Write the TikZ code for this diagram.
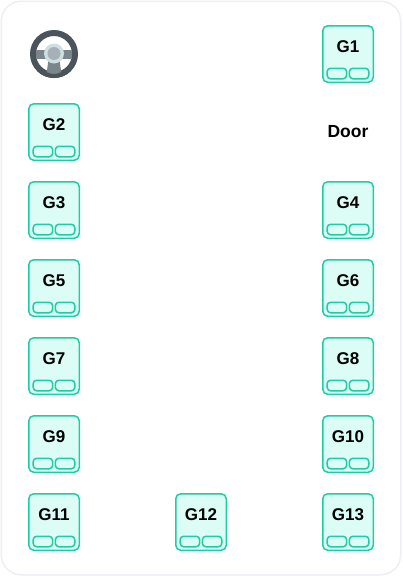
\documentclass[tikz,border=0pt]{standalone}
\usepackage{fontspec}
\setmainfont{Liberation Sans}
\usetikzlibrary{positioning}
\definecolor{seatfill}{RGB}{219,253,245}
\definecolor{seatborder}{RGB}{30,205,165}
\definecolor{frameborder}{RGB}{238,238,244}
\definecolor{wheelrim}{RGB}{75,84,90}
\definecolor{wheelspoke}{RGB}{122,134,140}
\definecolor{wheelhub}{RGB}{208,222,225}
\definecolor{wheelcap}{RGB}{165,177,182}
\tikzset{
  seatbox/.style = {rectangle, draw=seatborder, fill=seatfill, rounded corners=5pt,
                    line width=1.5pt, minimum width=50.5pt, minimum height=56.5pt,
                    inner sep=0pt, text height=12pt, text depth=15.4pt, font=\fontsize{17}{17}\selectfont\bfseries},
  padbox/.style = {rectangle, draw=seatborder, fill=seatfill, rounded corners=3.5pt,
                   line width=1.5pt, minimum width=19.5pt, minimum height=10.5pt, inner sep=0pt},
  doorlabel/.style = {font=\fontsize{17.5}{17.5}\selectfont\bfseries}
}
\begin{document}
\begin{tikzpicture}[x=1pt, y=-1pt, node distance=20pt and 95pt]
\useasboundingbox (0,0) rectangle (402,576);
\node[draw=frameborder, line width=1.5pt, rounded corners=20pt, minimum width=399.5pt, minimum height=573.5pt, inner sep=0pt] (frame) at (201,288) {};

\node[seatbox] (g1) at (348,54) {G1};
\node[doorlabel] (door) at (348,132) {Door};
\node[seatbox] (g2) at (54,132) {G2};
\node[seatbox, below=of g2] (g3) {G3};
\node[seatbox, below=of g3] (g5) {G5};
\node[seatbox, below=of g5] (g7) {G7};
\node[seatbox, below=of g7] (g9) {G9};
\node[seatbox, below=of g9] (g11) {G11};
\node[seatbox] (g4) at (348,210) {G4};
\node[seatbox, below=of g4] (g6) {G6};
\node[seatbox, below=of g6] (g8) {G8};
\node[seatbox, below=of g8] (g10) {G10};
\node[seatbox, below=of g10] (g13) {G13};
\node[seatbox, right=of g11] (g12) {G12};

\foreach \seat in {g1,g2,g3,g4,g5,g6,g7,g8,g9,g10,g11,g12,g13} {
  \node[padbox, anchor=south east] (\seat l) at ([shift={(-0.6,-3.5)}]\seat.south) {};
  \node[padbox, anchor=south west] (\seat r) at ([shift={(0.6,-3.5)}]\seat.south) {};
}

% steering wheel
\node[circle, draw=wheelrim, line width=6pt, minimum size=42pt, inner sep=0pt] (wheel) at (54,54) {};
\fill[wheelspoke] (36,49.5) rectangle (72,58.5);
\fill[wheelspoke] (49,56) -- (59,56) -- (61.5,74) -- (46.5,74) -- cycle;
\fill[wheelrim] (54,78) arc[start angle=90, end angle=45, radius=24] -- (68,67) arc[start angle=40, end angle=90, radius=20] -- cycle;
\fill[wheelrim] (54,78) arc[start angle=90, end angle=135, radius=24] -- (40,67) arc[start angle=140, end angle=90, radius=20] -- cycle;
\fill[wheelhub] (54,53.5) circle[radius=10];
\fill[wheelcap] (54,53.5) circle[radius=6.5];
\end{tikzpicture}
\end{document}
